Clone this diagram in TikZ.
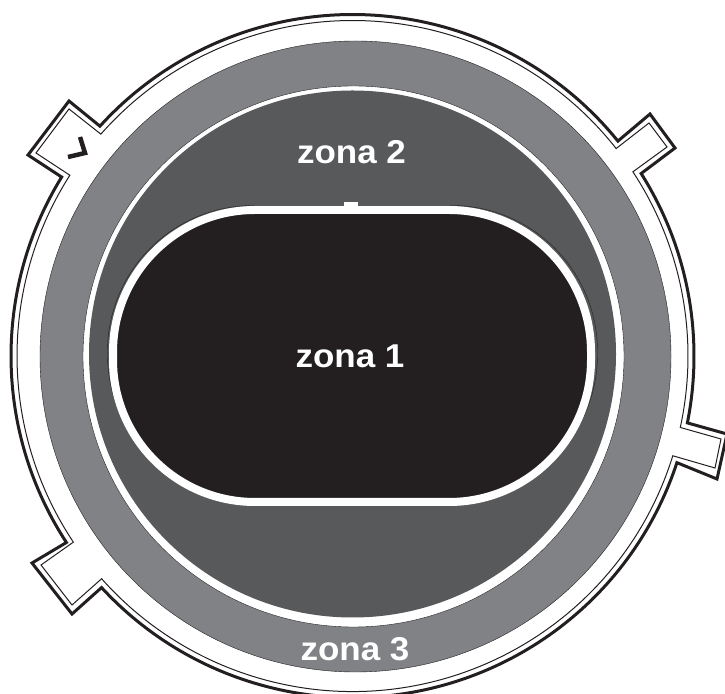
\documentclass[tikz,border=0pt]{standalone}
\usepackage{fontspec}
\setmainfont{Liberation Sans}
\usepackage{xcolor}
\usetikzlibrary{calc, positioning}
\definecolor{zonelight}{HTML}{808285}
\definecolor{zonedark}{HTML}{58595B}
\definecolor{zoneblack}{HTML}{231F20}

\begin{document}
\begin{tikzpicture}[
        x=1pt, y=1pt,
        disc/.style={draw=zoneblack, line width=0.4pt, circle, inner sep=0pt},
        zonelabel/.style={text=white, font=\fontsize{33}{33}\selectfont\bfseries, inner sep=0pt, xscale=1.06, transform shape},
        rimthick/.style={draw=zoneblack, line width=3pt, line join=miter},
        rimthin/.style={draw=zoneblack, line width=1pt, line join=miter}
    ]
        \useasboundingbox (0,0) rectangle (725,693);
        \coordinate (c) at (352.5,337);

        % Rim
        \draw[rimthick] ($(c)+(137.7:341.5)$) arc[start angle=137.7, end angle=39, radius=341.5]
            -- (650,579) -- (675,545) -- ($(c)+(32.3:341.5)$)
            arc[start angle=32.3, end angle=-11.3, radius=341.5]
            -- (727,259) -- (717,214) -- ($(c)+(-18.2:341.5)$)
            arc[start angle=-18.2, end angle=-137.3, radius=341.5]
            -- (72,79) -- (32,130) -- ($(c)+(-146.9:341.5)$)
            arc[start angle=-146.9, end angle=-211.6, radius=341.5]
            -- (28,538) -- (69,592) -- cycle;
        \draw[rimthin] ($(c)+(138.6:335.5)$) arc[start angle=138.6, end angle=38.2, radius=335.5]
            -- (649,570) -- (667,546) -- ($(c)+(33.3:335.5)$)
            arc[start angle=33.3, end angle=-12.3, radius=335.5]
            -- (721,254) -- (715,225) -- ($(c)+(-17.3:335.5)$)
            arc[start angle=-17.3, end angle=-138.4, radius=335.5]
            -- (72,88) -- (41,128) -- ($(c)+(-146.3:335.5)$)
            arc[start angle=-146.3, end angle=-212.6, radius=335.5]
            -- (36,540) -- (69,584) -- cycle;
        \draw[draw=zoneblack, line width=4.5pt, line join=miter] (80,556) -- (85,540) -- (68,536);

        % Zones
        \node[disc, fill=zonelight, minimum size=631pt] (zone3) at (355.5,336.5) {};
        \node[disc, fill=white, minimum size=541pt] (gap) at (353.5,336.5) {};
        \node[disc, draw=none, fill=zonedark, minimum size=527pt] (zone2) at (352.5,339) {};
        \node[draw=zoneblack, line width=0.4pt, rounded corners=146pt, inner sep=0pt,
            minimum width=490pt, minimum height=295pt] (edge) at (352.5,340) {};
        \node[fill=zoneblack, draw=white, line width=8pt, rounded corners=142pt, inner sep=0pt,
            minimum width=478pt, minimum height=292pt] (zone1) at (352,337) {};
        \node[fill=white, inner sep=0pt, minimum width=14pt, minimum height=5pt] (notch) at (351,488) {};

        % Labels
        \node[zonelabel] (label1) at (350,337) {zona 1};
        \node[zonelabel] (label2) at (351.5,541) {zona 2};
        \node[zonelabel] (label3) at (355,44) {zona 3};
    \end{tikzpicture}
\end{document}
